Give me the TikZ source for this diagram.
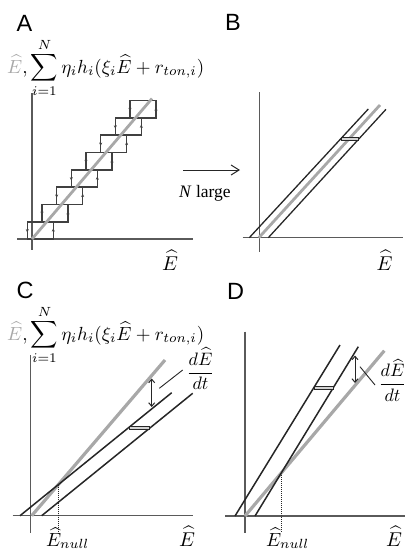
\documentclass[tikz,border=0pt]{standalone}
\usepackage{amsmath}
\usepackage{graphicx}
\usepackage{fontspec}
\setmainfont{Liberation Serif}
\newfontfamily\lblfont{Liberation Sans}
\usetikzlibrary{arrows.meta,intersections}
\definecolor{axisc}{HTML}{5A5A5A}
\definecolor{lg}{HTML}{A8A8A8}
\definecolor{dk}{HTML}{262626}
\definecolor{boxc}{HTML}{404040}
\newcommand\formulaX{\scalebox{1.9}{$\displaystyle \textcolor{lg}{\widehat{E}}, \sum_{i=1}^{N}\eta_i h_i(\xi_i\widehat{E}+r_{ton,i})$}}
\newcommand\ehatX{\scalebox{2}{$\widehat{E}$}}
\newcommand\enullX{\scalebox{1.9}{$\widehat{E}_{null}$}}
\newcommand\dedtX{\scalebox{1.8}{$\dfrac{d\widehat{E}}{dt}$}}
\begin{document}
\begin{tikzpicture}[x=1pt,y=-1pt,
  axis/.style={draw=axisc,line width=1.1pt},
  gline/.style={draw=lg,line width=2.8pt},
  bline/.style={draw=dk,line width=1.5pt},
  hbox/.style={draw=boxc,line width=1.6pt},
  tickar/.style={-{Stealth[length=3.5pt,width=3pt]},draw=boxc,line width=0.7pt},
  bar/.style={draw=dk,fill=lg!50,line width=0.8pt},
  dbl/.style={draw=dk,line width=1pt,{Straight Barb[length=3.5pt,width=6pt]}-{Straight Barb[length=3.5pt,width=6pt]}},
  leader/.style={draw=dk,line width=0.9pt},
  dotln/.style={draw=dk,line width=0.6pt,dash pattern=on 1pt off 1pt},
  plbl/.style={font=\lblfont\fontsize{23.5}{24}\selectfont,inner sep=0pt,anchor=base west},
  mth/.style={inner sep=0pt},
  frc/.style={inner sep=0pt,anchor=base}]
\useasboundingbox (0,0) rectangle (405,552);

% ---------- labels
\node[plbl] (lA) at (16.5,31.5) {A};
\node[plbl] (lB) at (225,30.5) {B};
\node[plbl] (lC) at (16.5,298.5) {C};
\node[plbl] (lD) at (227,299.5) {D};

% ---------- panel A
\coordinate (aVt) at (32,93);   \coordinate (aVb) at (32,250);
\coordinate (aHl) at (17,239);  \coordinate (aHr) at (193,239);
\draw[axis] (aVt) -- (aVb);
\draw[axis] (aHl) -- (aHr);
\foreach \k in {0,...,7}{
  \pgfmathsetmacro\L{27.3+14.67*\k}
  \pgfmathsetmacro\R{\L+26}
  \pgfmathsetmacro\B{239-17.3*\k}
  \pgfmathsetmacro\T{\B-17.3}
  \pgfmathsetmacro\M{\B-8.65}
  \draw[hbox] (\L,\B) rectangle (\R,\T);
  \draw[tickar] (\L,\M-2.5) -- (\L,\M+2.2);
  \draw[tickar] (\R,\M+2.5) -- (\R,\M-2.2);
}
\coordinate (aG1) at (32,239); \coordinate (aG2) at (152,98.5);
\draw[gline] (aG1) -- (aG2);
\node[mth,anchor=base west] (fA) at (7,73) {\formulaX};
\node[mth,anchor=base] (xA) at (170,270) {\ehatX};

% ---------- arrow N large
\coordinate (nS) at (183,170); \coordinate (nE) at (240,170);
\draw[draw=dk,line width=1pt,-{Straight Barb[length=8pt,width=10pt]}] (nS) -- (nE);
\node[font=\fontsize{17.5}{20}\selectfont,anchor=base,inner sep=0pt] (nl) at (205,197) {\textit{N} large};

% ---------- panel B
\coordinate (bVt) at (259.3,92);   \coordinate (bVb) at (259.3,252);
\coordinate (bHl) at (242.7,237.7); \coordinate (bHr) at (403,237.7);
\draw[axis] (bVt) -- (bVb);
\draw[axis] (bHl) -- (bHr);
\coordinate (bL1) at (249.3,237.7); \coordinate (bL2) at (368.3,109);
\coordinate (bG1) at (258.8,237.7); \coordinate (bG2) at (380,105);
\coordinate (bR1) at (268.3,237.7); \coordinate (bR2) at (386,109.3);
\draw[gline] (bG1) -- (bG2);
\draw[bline,line width=1.3pt] (bL1) -- (bL2);
\draw[bline,line width=1.3pt] (bR1) -- (bR2);
\coordinate (bb1) at (341.2,137.4); \coordinate (bb2) at (358.6,140.2);
\draw[bar] (bb1) rectangle (bb2);
\node[mth,anchor=base] (xB) at (384.5,270) {\ehatX};

% ---------- panel C
\coordinate (cVt) at (30.7,355);   \coordinate (cVb) at (30.7,532.7);
\coordinate (cHl) at (12.7,515.7); \coordinate (cHr) at (192.7,515.7);
\draw[axis] (cVt) -- (cVb);
\draw[axis] (cHl) -- (cHr);
\coordinate (cG1) at (31.7,515.7); \coordinate (cG2) at (165,360);
\coordinate (cA1) at (20,515.7);   \coordinate (cA2) at (171.7,392.7);
\coordinate (cB1) at (41.7,515.7); \coordinate (cB2) at (192.7,393.3);
\draw[gline,line width=3.2pt,name path=gC] (cG1) -- (cG2);
\draw[bline,name path=aC] (cA1) -- (cA2);
\draw[bline] (cB1) -- (cB2);
\path[name intersections={of=gC and aC,by=nC}];
\coordinate (cbot) at (0,532.7);
\draw[dotln] (nC) -- (nC |- cbot);
\coordinate (cb1) at (129.5,426.2); \coordinate (cb2) at (149.3,429.2);
\draw[bar] (cb1) rectangle (cb2);
\coordinate (cd1) at (151.7,378.5); \coordinate (cd2) at (151.7,407);
\draw[dbl] (cd1) -- (cd2);
\coordinate (cl1) at (159.3,388.3); \coordinate (cl2) at (182.7,370);
\draw[leader] (cl1) -- (cl2);
\node[frc] (fdC) at (200.5,377.5) {\dedtX};
\node[mth,anchor=base west] (fC) at (7,340) {\formulaX};
\node[mth,anchor=base west] (nlC) at (46,546) {\enullX};
\node[mth,anchor=base] (xC) at (187,546) {\ehatX};

% ---------- panel D
\coordinate (dVt) at (245,331.7); \coordinate (dVb) at (245,533);
\coordinate (dHl) at (225,516);   \coordinate (dHr) at (405,516);
\draw[axis] (dVt) -- (dVb);
\draw[axis] (dHl) -- (dHr);
\coordinate (dG1) at (245,516);   \coordinate (dG2) at (384.3,350.7);
\coordinate (dA1) at (235,516);   \coordinate (dA2) at (340,345);
\coordinate (dB1) at (255,516);   \coordinate (dB2) at (358.3,346.7);
\draw[gline,line width=3.2pt,name path=gD] (dG1) -- (dG2);
\draw[bline] (dA1) -- (dA2);
\draw[bline,name path=bD] (dB1) -- (dB2);
\path[name intersections={of=gD and bD,by=nD}];
\coordinate (dbot) at (0,533);
\draw[dotln] (nD) -- (nD |- dbot);
\coordinate (db1) at (314,386.6); \coordinate (db2) at (333.2,389.6);
\draw[bar] (db1) rectangle (db2);
\coordinate (dd1) at (355,355.5); \coordinate (dd2) at (355,383);
\draw[dbl] (dd1) -- (dd2);
\coordinate (dl1) at (360,366.7); \coordinate (dl2) at (375,385);
\draw[leader] (dl1) -- (dl2);
\node[frc] (fdD) at (392.5,389) {\dedtX};
\node[mth,anchor=base west] (nlD) at (266,546) {\enullX};
\node[mth,anchor=base] (xD) at (394,546) {\ehatX};
\end{tikzpicture}
\end{document}
